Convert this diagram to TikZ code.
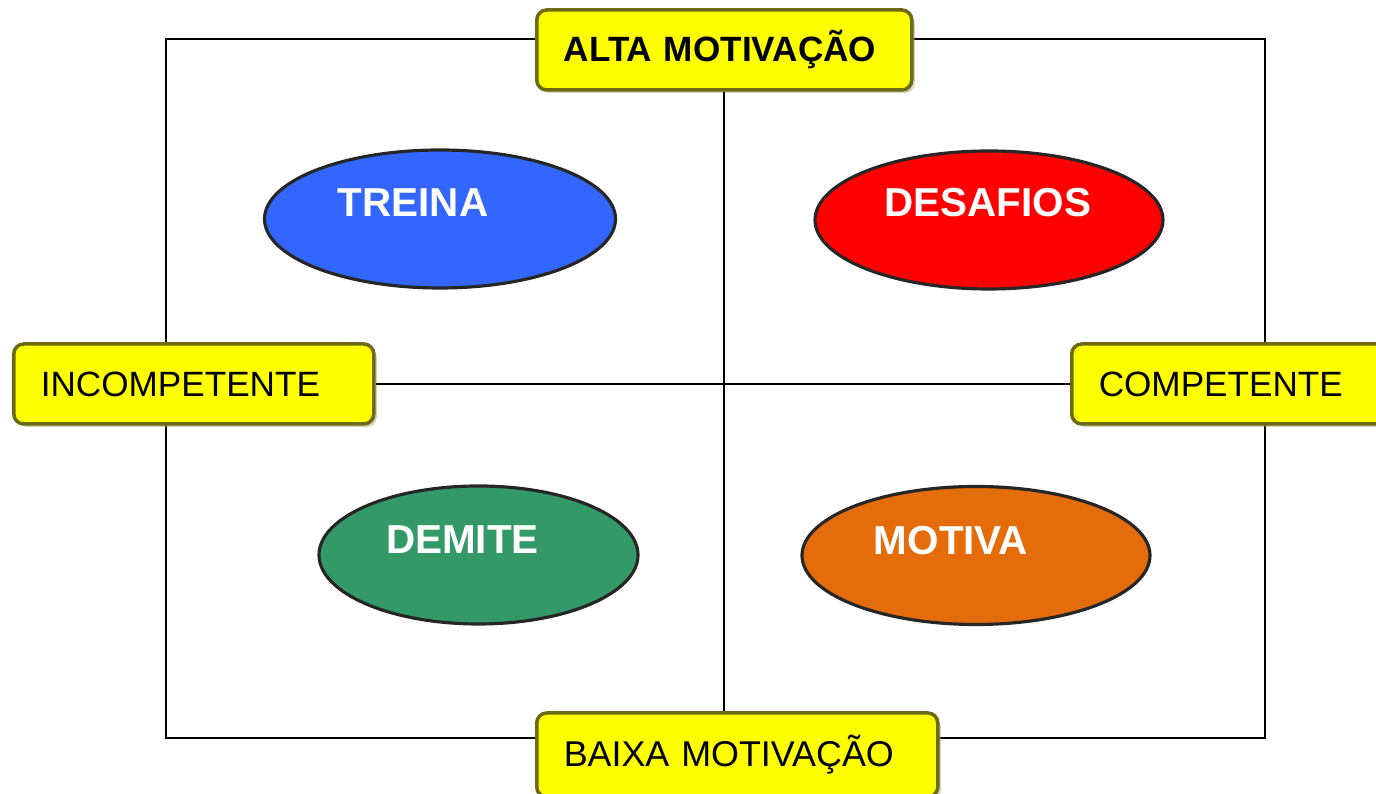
\documentclass[tikz,border=0pt]{standalone}
\usepackage{fontspec}
\setmainfont{Liberation Sans}
\usetikzlibrary{shapes.geometric,shadows}
\definecolor{amarelo}{RGB}{255,255,0}
\definecolor{oliva}{RGB}{110,105,20}
\definecolor{azul}{RGB}{51,102,255}
\definecolor{vermelho}{RGB}{255,0,0}
\definecolor{verde}{RGB}{51,153,102}
\definecolor{laranja}{RGB}{228,108,10}

\begin{document}
\begin{tikzpicture}[rt/.style={draw=oliva,line width=1pt,fill=amarelo,rounded corners=0.1cm,anchor=west,align=left,inner xsep=0.27cm,minimum height=0.8cm,font=\fontsize{10}{12}\selectfont,drop shadow={shadow xshift=0.03cm,shadow yshift=-0.03cm,fill=oliva!60}},
        el/.style={ellipse,draw=black!85,line width=0.9pt,inner sep=0pt},
        lt/.style={text=white,font=\bfseries\fontsize{11.5}{13}\selectfont}]
        \useasboundingbox (0,0) rectangle (13.76,7.94);
        \draw[line width=0.6pt] (1.66,0.56) rectangle (12.65,7.55);
        \node[rt,text width=3.21cm,font=\bfseries\fontsize{10}{12}\selectfont] (alta) at (5.35,7.44) {ALTA MOTIVAÇÃO};
        \node[rt,text width=3.06cm] (incomp) at (0.12,4.10) {INCOMPETENTE};
        \node[rt,text width=2.70cm] (comp) at (10.70,4.10) {COMPETENTE};
        \node[rt,text width=3.47cm,minimum height=0.84cm,font=\fontsize{10.2}{12}\selectfont] (baixa) at (5.35,0.39) {\mbox{BAIXA MOTIVAÇÃO}};
        \draw[line width=0.6pt] (alta.south) -- (alta.south |- baixa.north);
        \draw[line width=0.6pt] (incomp.east) -- (comp.west);
        \foreach \n/\t/\x/\y/\w/\c/\dx/\dy in {treina/TREINA/4.40/5.75/3.51/azul/-0.27/0.16,
            desafios/DESAFIOS/9.89/5.74/3.48/vermelho/-0.01/0.17,
            demite/DEMITE/4.785/2.39/3.19/verde/-0.16/0.15,
            motiva/MOTIVA/9.76/2.385/3.48/laranja/-0.25/0.15} {
            \node[el,fill=\c,minimum width=\w cm,minimum height=1.38cm,
                label={[lt,xshift=\dx cm,yshift=\dy cm]center:\t}] (\n) at (\x,\y) {};
        }
    \end{tikzpicture}
\end{document}
